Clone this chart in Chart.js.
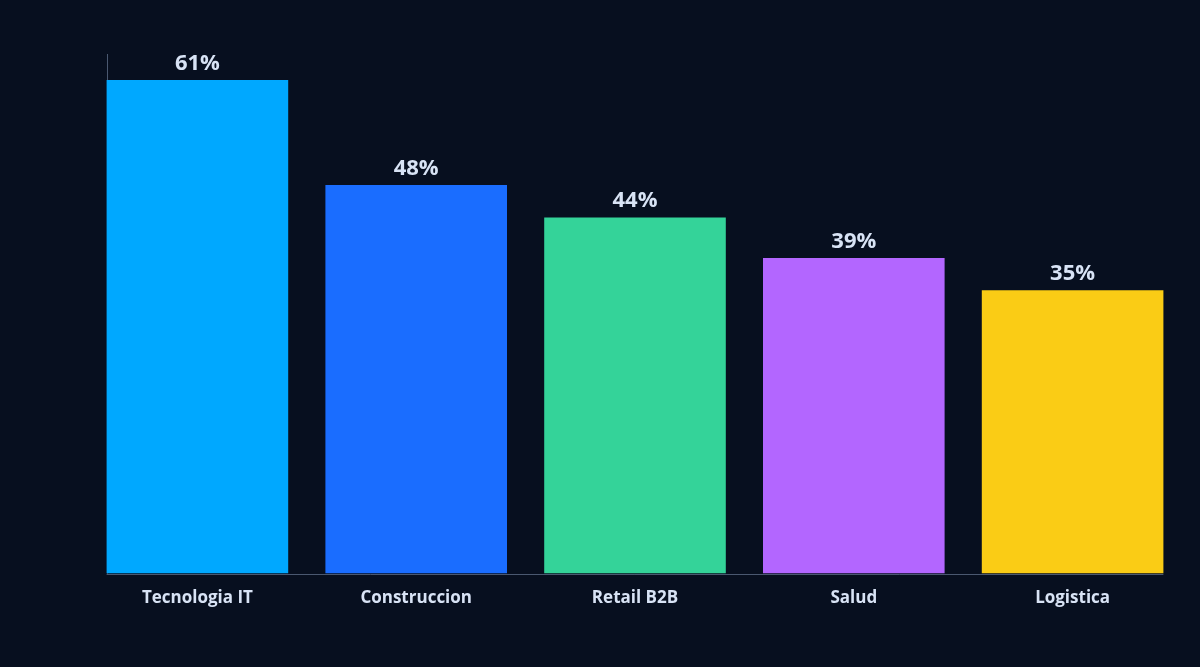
<!DOCTYPE html>
<html>
<head>
<meta charset="utf-8">
<script src="https://cdn.jsdelivr.net/npm/chart.js@4"></script>
<style>
html,body{margin:0;padding:0;background:#070f1f;}
#wrap{width:1200px;height:667px;position:relative;}
</style>
</head>
<body>
<div id="wrap"><canvas id="c" width="1200" height="667"></canvas></div>
<script>
const categories = ["Tecnologia IT", "Construccion", "Retail B2B", "Salud", "Logistica"];
const values = [61, 48, 44, 39, 35];
const barColors = ["#00a8ff", "#1a6dff", "#34d399", "#b366ff", "#facc15"];
const yMax = 64.2;

const labelColor = "#d8e3f5";
const axisColor = "#4a5870";

const overlay = {
  id: "overlay",
  beforeDatasetsDraw(chart) {
    const ctx = chart.ctx;
    const meta = chart.getDatasetMeta(0);
    const first = meta.data[0], last = meta.data[meta.data.length - 1];
    const x0 = first.x - first.width / 2;
    const x1 = last.x + last.width / 2;
    const ca = chart.chartArea;
    ctx.save();
    ctx.strokeStyle = axisColor;
    ctx.lineWidth = 1;
    ctx.beginPath();
    ctx.moveTo(Math.round(x0) + 0.5, ca.top);
    ctx.lineTo(Math.round(x0) + 0.5, ca.bottom);
    ctx.moveTo(x0, Math.round(ca.bottom) + 0.5);
    ctx.lineTo(x1, Math.round(ca.bottom) + 0.5);
    ctx.stroke();
    ctx.restore();
  },
  afterDatasetsDraw(chart) {
    const ctx = chart.ctx;
    const meta = chart.getDatasetMeta(0);
    ctx.save();
    ctx.fillStyle = labelColor;
    ctx.font = "bold 22px 'Open Sans', 'Noto Sans', sans-serif";
    ctx.textAlign = "center";
    ctx.textBaseline = "alphabetic";
    meta.data.forEach((bar, i) => {
      ctx.fillText(values[i] + "%", bar.x, bar.y - 10);
    });
    ctx.restore();
  }
};

new Chart(document.getElementById("c"), {
  type: "bar",
  data: {
    labels: categories,
    datasets: [{
      data: values,
      backgroundColor: barColors,
      borderWidth: 0,
      barPercentage: 0.83,
      categoryPercentage: 1.0
    }]
  },
  options: {
    responsive: false,
    animation: false,
    layout: { padding: { left: 88, right: 18, top: 54, bottom: 45 } },
    plugins: { legend: { display: false }, tooltip: { enabled: false } },
    scales: {
      x: {
        grid: { display: false, drawTicks: false },
        border: { display: false },
        ticks: {
          color: labelColor,
          padding: 14,
          font: { family: "'Open Sans', 'Noto Sans', sans-serif", size: 17, weight: "bold" }
        }
      },
      y: {
        display: false,
        min: 0,
        max: yMax
      }
    }
  },
  plugins: [overlay]
});
</script>
</body>
</html>
